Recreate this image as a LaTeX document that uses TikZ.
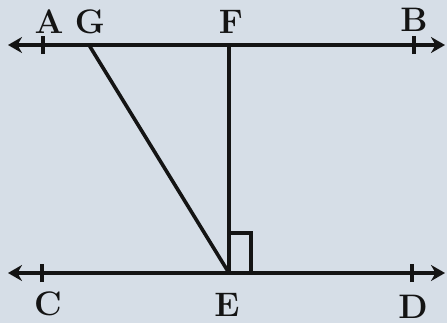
\documentclass[tikz,border=0pt]{standalone}
\usepackage{tikz}
\usetikzlibrary{arrows.meta}
\definecolor{paper}{HTML}{D6DEE7}
\definecolor{ink}{HTML}{141414}
\tikzset{
  lineseg/.style  = {{Stealth[length=7pt,width=8pt]}-{Stealth[length=7pt,width=8pt]},line width=1.8pt,ink},
  segline/.style  = {line width=1.8pt,ink},
  tickmark/.style = {line width=1.8pt,ink},
  ptlabel/.style  = {font=\fontsize{17}{19}\selectfont\bfseries,ink,inner sep=0pt}
}

\begin{document}
\begin{tikzpicture}[x=0.5pt,y=-0.5pt]
  \fill[paper] (0,0) rectangle (447,323);
  \useasboundingbox (0,0) rectangle (447,323);
  % the two parallel lines
  \coordinate (ABl) at (8,45);   \coordinate (ABr) at (445,45);
  \coordinate (CDl) at (8,273);  \coordinate (CDr) at (445,273);
  \coordinate (G) at (89,45);
  \coordinate (F) at (229,45);
  \coordinate (E) at (229,273);
  \draw[lineseg] (ABl) -- (ABr);
  \draw[lineseg] (CDl) -- (CDr);
  % ticks at A, B, C, D
  \coordinate (A) at (43,45);  \coordinate (B) at (414,45);
  \coordinate (C) at (42,273); \coordinate (D) at (412,273);
  \foreach \p in {A,B,C,D}
    \draw[tickmark] ([yshift=-4.5pt]\p) -- ([yshift=4.5pt]\p);
  % transversals
  \draw[segline] (G) -- (E);
  \draw[segline] (F) -- (E);
  \draw[segline] ([yshift=20pt]E) -- ++(22,0) -- ++(0,40);
  % labels
  \node[ptlabel] (lA) at (49,22)  {A};
  \node[ptlabel] (lG) at (90,22)  {G};
  \node[ptlabel] (lF) at (231,22) {F};
  \node[ptlabel] (lB) at (414,20) {B};
  \node[ptlabel] (lC) at (48,304) {C};
  \node[ptlabel] (lE) at (227,305) {E};
  \node[ptlabel] (lD) at (413,307) {D};
\end{tikzpicture}
\end{document}
